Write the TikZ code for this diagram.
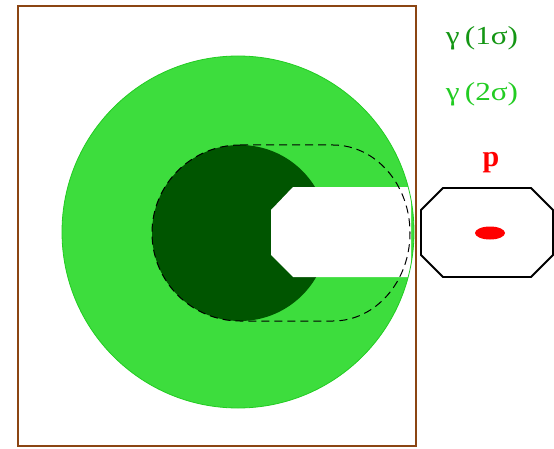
\documentclass[tikz,border=0pt]{standalone}
\usepackage{fontspec}
\setmainfont{Liberation Serif}
\definecolor{framebrown}{RGB}{139,69,19}
\definecolor{lightg}{RGB}{61,221,61}
\definecolor{lightgline}{RGB}{34,204,34}
\definecolor{darkg}{RGB}{0,85,0}
\definecolor{txtdark}{RGB}{20,150,20}
\definecolor{txtlight}{RGB}{34,204,34}
\begin{document}
\begin{tikzpicture}[x=1pt,y=1pt,
  frame/.style={draw=framebrown,line width=2pt},
  dashline/.style={draw=black,line width=1pt,dash pattern=on 8pt off 5pt},
  octo/.style={draw=black,line width=1.8pt,line join=miter},
  lbl/.style={inner sep=0pt,font=\fontsize{26}{30}\selectfont,xscale=1.2}]
\useasboundingbox (0,0) rectangle (554,448);
% big 2 sigma disc
\fill[lightg] (238,216) circle[radius=176];
% 1 sigma disc
\fill[darkg] (240,215) circle[radius=88];
% white cut-out
\fill[white] (271,238) -- (293,261) -- (411,261) -- (411,171) -- (293,171) -- (271,193) -- cycle;
\draw[lightgline,line width=0.8pt] (238,216) circle[radius=176];
% dashed contour
\draw[dashline] (240,303) -- (333,303)
  arc[start angle=90,end angle=-90,x radius=77,y radius=88]
  -- (240,127)
  arc[start angle=270,end angle=90,radius=88] -- cycle;
% frame
\draw[frame] (18,442) rectangle (416,2);
% octagon
\draw[octo] (443,260) -- (531,260) -- (553,238) -- (553,193) -- (531,171) -- (443,171) -- (421,193) -- (421,238) -- cycle;
\fill[red] (490,215) ellipse[x radius=15,y radius=6.5];
% labels
\node[lbl,text=txtdark] (l1) at (482,410) {γ\,(1σ)};
\node[lbl,text=txtlight] (l2) at (482,354) {γ\,(2σ)};
\node[inner sep=0pt,text=red,font=\bfseries\fontsize{30}{34}\selectfont] (p) at (491,285) {p};
\end{tikzpicture}
\end{document}
